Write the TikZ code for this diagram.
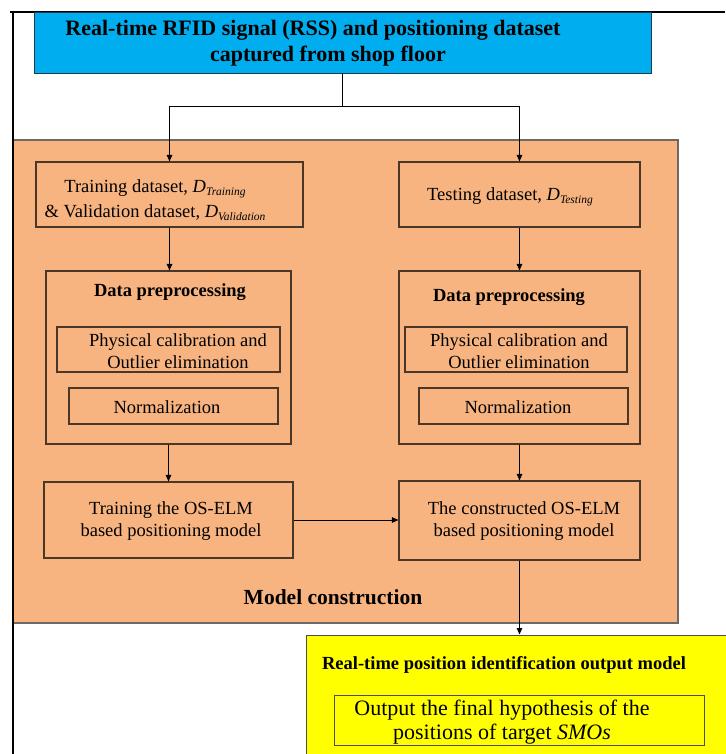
\documentclass[tikz,border=0pt]{standalone}
\usepackage{fontspec}
\setmainfont{Liberation Serif}
\usetikzlibrary{arrows.meta}
\definecolor{orangefill}{RGB}{248,180,128}
\definecolor{bluefill}{RGB}{0,174,239}
\definecolor{yellowfill}{RGB}{255,255,0}
\definecolor{brd}{RGB}{75,55,40}
\definecolor{outerbrd}{RGB}{110,105,100}
\definecolor{bluebrd}{RGB}{30,60,80}
\newcommand{\mysub}[1]{\raisebox{-0.4ex}{\fontsize{11.5}{12}\selectfont\itshape #1}}
\begin{document}
\begin{tikzpicture}[x=1pt,y=-1pt]
\tikzset{
 bx/.style={draw=brd, line width=1.1pt, inner sep=0pt},
 txt/.style={font=\fontsize{18.5}{22}\selectfont, align=center, inner sep=0pt},
 btxt/.style={font=\bfseries\fontsize{18.5}{22}\selectfont, align=center, inner sep=0pt},
 ln/.style={draw=black, line width=1pt},
 arr/.style={draw=black, line width=1pt, -{Triangle[length=6.5pt,width=5.5pt]}},
}
\useasboundingbox (0,0) rectangle (725,754);
\fill[white] (0,0) rectangle (725,754);

% big orange container
\node[bx, draw=outerbrd, line width=1.4pt, fill=orangefill, minimum width=665pt, minimum height=483pt] (mc) at (345.5,381.5) {};

% outer frame lines
\draw[line width=2pt] (10,12) -- (725,12);
\draw[line width=2pt] (13,12) -- (13,754);

% source
\node[bx, draw=bluebrd, line width=0.9pt, fill=bluefill, minimum width=617pt, minimum height=61pt] (src) at (342.5,42.5) {};
\node[font=\bfseries\fontsize{22}{26}\selectfont, align=center, inner sep=0pt] (srct) at (313,43) {Real-time RFID signal (RSS) and positioning dataset\\\hspace*{30pt}captured from shop floor};

% datasets
\node[bx, fill=orangefill, minimum width=267pt, minimum height=65pt] (train) at (169.5,194.5) {};
\node[txt, font=\fontsize{18.5}{25}\selectfont] (traint) at (155,200) {Training dataset, {\itshape D}\mysub{Training}\\\& Validation dataset,\ {\itshape D}\mysub{Validation}};
\node[bx, fill=orangefill, minimum width=241pt, minimum height=65pt] (test) at (519.5,194.5) {};
\node[txt] (testt) at (510,197) {Testing dataset, {\itshape D}\mysub{Testing}};

% data preprocessing
\node[bx, fill=orangefill, minimum width=245pt, minimum height=173pt] (dpl) at (168.5,357.5) {};
\node[btxt] (dplt) at (170,292) {Data preprocessing};
\node[bx, fill=orangefill, minimum width=223pt, minimum height=45pt] (pcl) at (168.5,349.5) {};
\node[txt] (pclt) at (178,351) {Physical calibration and\\Outlier elimination};
\node[bx, fill=orangefill, minimum width=209pt, minimum height=36pt] (nml) at (173.5,406) {};
\node[txt] (nmlt) at (167,407) {Normalization};

\node[bx, fill=orangefill, minimum width=241pt, minimum height=173pt] (dpr) at (519.5,357.5) {};
\node[btxt] (dprt) at (509,297) {Data preprocessing};
\node[bx, fill=orangefill, minimum width=222pt, minimum height=45pt] (pcr) at (516,349.5) {};
\node[txt] (pcrt) at (519,351) {Physical calibration and\\Outlier elimination};
\node[bx, fill=orangefill, minimum width=209pt, minimum height=36pt] (nmr) at (523.5,406) {};
\node[txt] (nmrt) at (518,407) {Normalization};

% models
\node[bx, fill=orangefill, minimum width=249pt, minimum height=76pt] (trm) at (168.5,520) {};
\node[txt] (trmt) at (171,521) {Training the OS-ELM\\based positioning model};
\node[bx, fill=orangefill, minimum width=241pt, minimum height=79pt] (cons) at (519.5,520.5) {};
\node[txt] (const) at (524,521) {The constructed OS-ELM\\based positioning model};

\node[font=\bfseries\fontsize{21.5}{24}\selectfont, inner sep=0pt] (mct) at (333,597) {Model construction};

% output
\node[draw=black!70, line width=1pt, fill=yellowfill, inner sep=0pt, minimum width=440pt, minimum height=140pt] (yel) at (526,705) {};
\node[btxt] (yelt) at (504,665) {Real-time position identification output model};
\node[draw=black!70, line width=1pt, fill=yellowfill, inner sep=0pt, minimum width=370pt, minimum height=50pt] (outb) at (519,720) {};
\node[font=\fontsize{22}{24}\selectfont, align=center, inner sep=0pt] (outt) at (502,722.5) {Output the final hypothesis of the\\positions of target \textit{SMOs}};

% connectors
\coordinate (jn) at (342.5,107);
\draw[ln] (src.south) -- (jn);
\draw[arr] (jn) -| (train.north);
\draw[arr] (jn) -| (test.north);
\draw[arr] (train.south) -- (train.south |- dpl.north);
\draw[arr] (test.south) -- (test.south |- dpr.north);
\draw[arr] (dpl.south) -- (dpl.south |- trm.north);
\draw[arr] (dpr.south) -- (dpr.south |- cons.north);
\draw[arr] (trm.east) -- (trm.east -| cons.west);
\draw[arr] (cons.south) -- (cons.south |- yel.north);
\end{tikzpicture}
\end{document}
